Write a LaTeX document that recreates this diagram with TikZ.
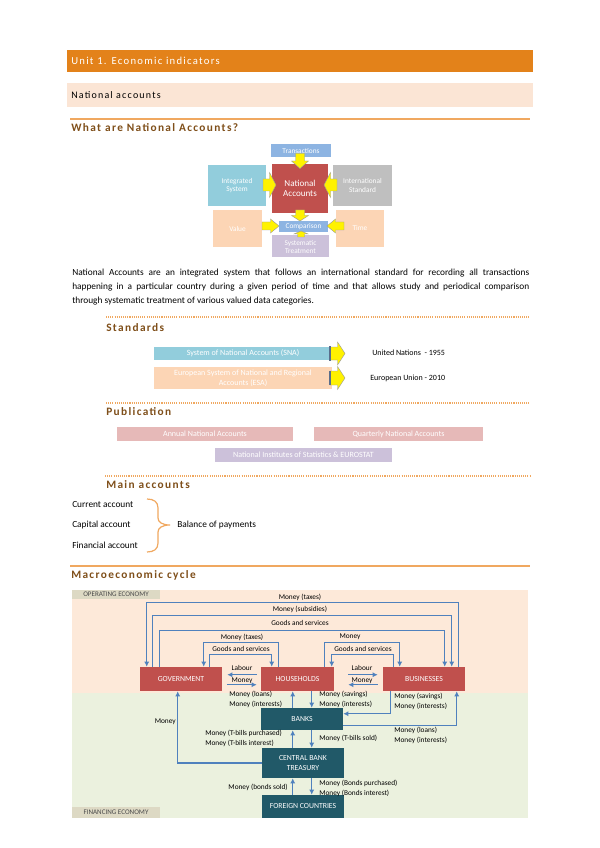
\documentclass[tikz,border=0pt]{standalone}
\usepackage{fontspec}
\setmainfont{Carlito}
\newfontfamily\spacedfont[LetterSpace=12]{Carlito}
\usetikzlibrary{fit,calc,arrows.meta}
\definecolor{hdr}{HTML}{E3821A}
\definecolor{peachband}{HTML}{FBE5D5}
\definecolor{brownh}{HTML}{7F4F1A}
\definecolor{orline}{HTML}{F0A860}
\definecolor{transblue}{HTML}{8DB4E2}
\definecolor{nared}{HTML}{C0504D}
\definecolor{ltblue}{HTML}{92CDDC}
\definecolor{grayb}{HTML}{BFBFBF}
\definecolor{peachb}{HTML}{FCD5B5}
\definecolor{lavb}{HTML}{CCC1DA}
\definecolor{pinkb}{HTML}{E6B9B8}
\definecolor{tealb}{HTML}{215968}
\definecolor{flowblue}{HTML}{4F81BD}
\definecolor{opbg}{HTML}{FDE9D9}
\definecolor{finbg}{HTML}{EBF1DE}
\definecolor{tagb}{HTML}{DDD9C4}
\definecolor{edgeb}{HTML}{5A6E8C}
\newcommand\yarw[6]{\draw[yarrowst,shift={(#1,#2)},rotate=#3] (-#4/2,-#6/2) -- (0,-#6/2) -- (0,-#5/2) -- (#4/2,0) -- (0,#5/2) -- (0,#6/2) -- (-#4/2,#6/2) -- cycle;}
\begin{document}
\begin{tikzpicture}[x=0.75pt,y=-0.75pt,
  shp/.style={inner sep=0pt, draw=none},
  bx/.style={inner sep=0pt, text=white, align=center, font=\fontsize{5.5}{6.5}\selectfont},
  sect/.style={anchor=west, inner sep=0pt, text=brownh, font=\spacedfont\bfseries\fontsize{8.5}{10}\selectfont},
  body/.style={anchor=west, inner sep=0pt, font=\fontsize{7}{8.5}\selectfont},
  lbl/.style={inner sep=0pt, align=left, text=black, font=\fontsize{5.5}{7.5}\selectfont},
  orangeline/.style={draw=orline, line width=0.8pt},
  dotline/.style={draw=orline, line width=0.8pt, dash pattern=on 0.8pt off 0.8pt},
  yarrowst/.style={fill=yellow, draw=black!40, line width=0.3pt},
  flow/.style={draw=flowblue, line width=1.1pt, -{Latex[length=3.8pt,width=3.8pt]}},
  cyc/.style={inner sep=0pt, text=white, align=center, font=\fontsize{5.8}{7.5}\selectfont},
  tag/.style={inner sep=0pt, text=black!70, font=\fontsize{5.3}{6}\selectfont}]
\useasboundingbox (0,0) rectangle (599,848);
\fill[white] (0,0) rectangle (599,848);

% ---------- header bars
\node[shp, fit={(67,50)(533,72)}, fill=hdr] (unitbar) {};
\node[anchor=west, inner sep=0pt, text=white, font=\spacedfont\fontsize{8}{9}\selectfont] (unittxt) at (71,61) {Unit 1. Economic indicators};
\node[shp, fit={(67,83)(533,107)}, fill=peachband] (nabar) {};
\node[anchor=west, inner sep=0pt, font=\spacedfont\fontsize{7.5}{9}\selectfont] (natxt) at (71,95) {National accounts};

\draw[orangeline] (70,119) -- (530,119);
\node[sect] (t1) at (71,128) {What are National Accounts?};

% ---------- concept diagram
\node[shp, fill=transblue, fit={(271,144)(331,157)}] (trans) {};
\node[bx] (trans-t) at (trans.center) {Transactions};
\node[shp, fill=ltblue, fit={(208,165)(266,206)}] (intsys) {};
\node[bx] (intsys-t) at (intsys.center) {Integrated\\System};
\node[shp, fill=grayb, fit={(333,165)(392,206)}] (intstd) {};
\node[bx] (intstd-t) at (intstd.center) {International\\Standard};
\node[shp, fill=nared, fit={(272,164)(328,213)}] (na) {};
\node[bx, font=\fontsize{6.8}{8}\selectfont] (na-t) at (na.center) {National\\Accounts};
\node[shp, fill=peachb, fit={(213,210)(262,247)}] (value) {};
\node[bx] (value-t) at (value.center) {Value};
\node[shp, fill=peachb, fit={(336,210)(384,247)}] (time) {};
\node[bx] (time-t) at (time.center) {Time};
\node[shp, fill=lavb, fit={(272,235)(329,257)}] (syst) {};
\node[bx] (syst-t) at ($(syst.center)+(0,1)$) {Systematic\\Treatment};
\node[shp, fill=transblue, fit={(279,221)(328,232)}] (comp) {};
\yarw{300}{161}{-90}{15}{17}{9}
\yarw{269.5}{185}{0}{13}{25}{12}
\yarw{330.5}{185}{180}{13}{25}{12}
\yarw{300}{215.5}{-90}{11}{17}{9}
\yarw{270.5}{226}{0}{17}{14}{8}
\yarw{335.5}{226}{180}{17}{14}{8}
\yarw{301}{234}{90}{6}{14}{7}
\node[bx] (comp-t) at (comp.center) {Comparison};

% ---------- paragraph
\node[body] (p1) at (72,273) {\makebox[342.75pt][s]{National Accounts are an integrated system that follows an international standard for recording all transactions}};
\node[body] (p2) at (72,287) {\makebox[342.75pt][s]{happening in a particular country during a given period of time and that allows study and periodical comparison}};
\node[body] (p3) at (72,301) {through systematic treatment of various valued data categories.};

% ---------- standards
\draw[dotline] (106,317) -- (530,317);
\node[sect] (t2) at (106,328) {Standards};
\node[shp, fill=ltblue, fit={(154,347)(332,360)}] (sna) {};
\node[bx, font=\fontsize{6}{7}\selectfont] (sna-t) at (sna.center) {System of National Accounts (SNA)};
\node[shp, fill=peachb, fit={(154,367)(332,389)}] (esa) {};
\node[bx, font=\fontsize{6}{7.5}\selectfont] (esa-t) at (esa.center) {European System of National and Regional\\Accounts (ESA)};
\yarw{337.5}{353.5}{0}{15}{23}{13}
\yarw{337.5}{378}{0}{15}{23}{14}
\draw[edgeb, line width=0.8pt] (330,346) -- (330,361);
\draw[edgeb, line width=0.8pt] (330,371) -- (330,385);
\node[lbl, anchor=west, font=\fontsize{6}{7}\selectfont] (un) at (372,353) {United Nations\ \ - 1955};
\node[lbl, anchor=west, font=\fontsize{6}{7}\selectfont] (eu) at (370,378) {European Union - 2010};

% ---------- publication
\draw[dotline] (106,403) -- (530,403);
\node[sect] (t3) at (106,412) {Publication};
\node[shp, fill=pinkb, fit={(117,427)(293,441)}] (annual) {};
\node[bx, font=\fontsize{6}{7}\selectfont] (annual-t) at (annual.center) {Annual National Accounts};
\node[shp, fill=pinkb, fit={(314,427)(483,441)}] (quart) {};
\node[bx, font=\fontsize{6}{7}\selectfont] (quart-t) at (quart.center) {Quarterly National Accounts};
\node[shp, fill=lavb, fit={(215,448)(392,462)}] (nis) {};
\node[bx, font=\fontsize{6}{7}\selectfont] (nis-t) at (nis.center) {National Institutes of Statistics \& EUROSTAT};

% ---------- main accounts
\draw[dotline] (105,476) -- (530,476);
\node[sect] (t4) at (106,485) {Main accounts};
\node[body] (cur) at (72,505) {Current account};
\node[body] (cap) at (72,525) {Capital account};
\node[body] (fin) at (72,545) {Financial account};
\draw[draw=orline, line width=0.9pt] (147,499) .. controls (154,499) and (158,502) .. (158,508) -- (158,518) .. controls (158,522) and (162,525) .. (170,525) .. controls (162,525) and (158,528) .. (158,532) -- (158,543) .. controls (158,549) and (154,552) .. (147,552);
\node[body] (bop) at (177,525) {Balance of payments};

% ---------- macroeconomic cycle
\draw[orangeline] (70,566) -- (530,566);
\node[sect] (t5) at (71,575) {Macroeconomic cycle};
\fill[opbg] (72,590) rectangle (528,693);
\fill[finbg] (72,693) rectangle (528,818);
\node[shp, fit={(72,590)(160,599)}, fill=tagb] (opt) {};
\node[tag] (opt-t) at (opt.center) {OPERATING ECONOMY};
\node[shp, fit={(72,807)(160,818)}, fill=tagb] (fint) {};
\node[tag] (fint-t) at (fint.center) {FINANCING ECONOMY};

\node[shp, fill=nared, fit={(140,667)(222,691)}] (gov) {};
\node[cyc] (gov-t) at (gov.center) {GOVERNMENT};
\node[shp, fill=nared, fit={(261,667)(334,691)}] (hh) {};
\node[cyc] (hh-t) at (hh.center) {HOUSEHOLDS};
\node[shp, fill=nared, fit={(383,667)(465,691)}] (bus) {};
\node[cyc] (bus-t) at (bus.center) {BUSINESSES};
\node[shp, fill=tealb, fit={(261,708)(343,730)}] (banks) {};
\node[cyc] (banks-t) at (banks.center) {BANKS};
\node[shp, fill=tealb, fit={(262,748)(344,778)}] (cb) {};
\node[cyc] (cb-t) at (cb.center) {CENTRAL BANK\\TREASURY};
\node[shp, fill=tealb, fit={(262,795)(344,818)}] (fc) {};
\node[cyc] (fc-t) at (fc.center) {FOREIGN COUNTRIES};

% outer loops
\draw[flow] ($(bus.north west)+(76,0)$) -- ++(0,-64) -| ($(gov.north west)+(7,0)$);
\draw[flow] ($(gov.north west)+(13,0)$) -- ++(0,-51) -| ($(bus.north west)+(69,0)$);
\draw[flow] ($(gov.north west)+(20,0)$) -- ++(0,-36) -| ($(bus.north west)+(62,0)$);
\node[lbl] (l1) at (300,597) {Money (taxes)};
\node[lbl] (l2) at (300,609) {Money (subsidies)};
\node[lbl] (l3) at (300,623) {Goods and services};
% inner left loops
\draw[flow] ($(hh.north west)+(18,0)$) -- ++(0,-24) -| ($(gov.north west)+(64,0)$);
\draw[flow] ($(gov.north west)+(70,0)$) -- ++(0,-12) -| ($(hh.north west)+(11,0)$);
\node[lbl] (l4) at (242,637) {Money (taxes)};
\node[lbl] (l5) at (241,649) {Goods and services};
% inner right loops
\draw[flow] ($(hh.north west)+(64,0)$) -- ++(0,-24) -| ($(bus.north west)+(17,0)$);
\draw[flow] ($(bus.north west)+(11,0)$) -- ++(0,-12) -| ($(hh.north west)+(71,0)$);
\node[lbl] (l6) at (350,637) {Money};
\node[lbl] (l7) at (363,649) {Goods and services};
% labour / money
\draw[flow] ($(hh.north west)+(-4,8)$) -- ($(gov.north east)+(5,8)$);
\draw[flow] ($(gov.north east)+(5,18)$) -- ($(hh.north west)+(-4,18)$);
\node[lbl] (l8) at (242,668) {Labour};
\node[lbl] (l9) at (242,681) {Money};
\draw[flow] ($(hh.north east)+(14,8)$) -- ($(bus.north west)+(-5,8)$);
\draw[flow] ($(bus.north west)+(-5,18)$) -- ($(hh.north east)+(14,18)$);
\node[lbl] (l10) at (362,668) {Labour};
\node[lbl] (l11) at (362,681) {Money};
% vertical flows
\draw[flow] (cb.west) -| ($(gov.south west)+(38,0)$);
\node[lbl, anchor=east] (l12) at (176,722) {Money};
\draw[flow] ($(banks.north west)+(32,0)$) -- ($(hh.south west)+(32,0)$);
\draw[flow] ($(hh.south west)+(51,0)$) -- ($(banks.north west)+(51,0)$);
\node[lbl, anchor=west] (l13) at (229,699) {Money (loans)\\Money (interests)};
\node[lbl, anchor=west] (l14) at (319,699) {Money (savings)\\Money (interests)};
\draw[flow] ($(bus.south west)+(8,0)$) |- ($(banks.north east)+(0,6)$);
\node[lbl, anchor=west] (l15) at (394,701) {Money (savings)\\Money (interests)};
\draw[flow] ($(banks.south east)+(0,-5)$) -| ($(bus.south west)+(74,0)$);
\node[lbl, anchor=west] (l16) at (394,735) {Money (loans)\\Money (interests)};
\draw[flow] ($(cb.north west)+(31,0)$) -- ($(banks.south west)+(32,0)$);
\draw[flow] ($(banks.south west)+(51,0)$) -- ($(cb.north west)+(50,0)$);
\node[lbl, anchor=west] (l17) at (205,738) {Money (T-bills purchased)\\Money (T-bills interest)};
\node[lbl, anchor=west] (l18) at (319,738) {Money (T-bills sold)};
\draw[flow] ($(fc.north west)+(31,0)$) -- ($(cb.south west)+(31,0)$);
\draw[flow] ($(cb.south west)+(50,0)$) -- ($(fc.north west)+(50,0)$);
\node[lbl, anchor=east] (l19) at (288,787) {Money (bonds sold)};
\node[lbl, anchor=west] (l20) at (319,788) {Money (Bonds purchased)\\Money (Bonds interest)};
\end{tikzpicture}
\end{document}
